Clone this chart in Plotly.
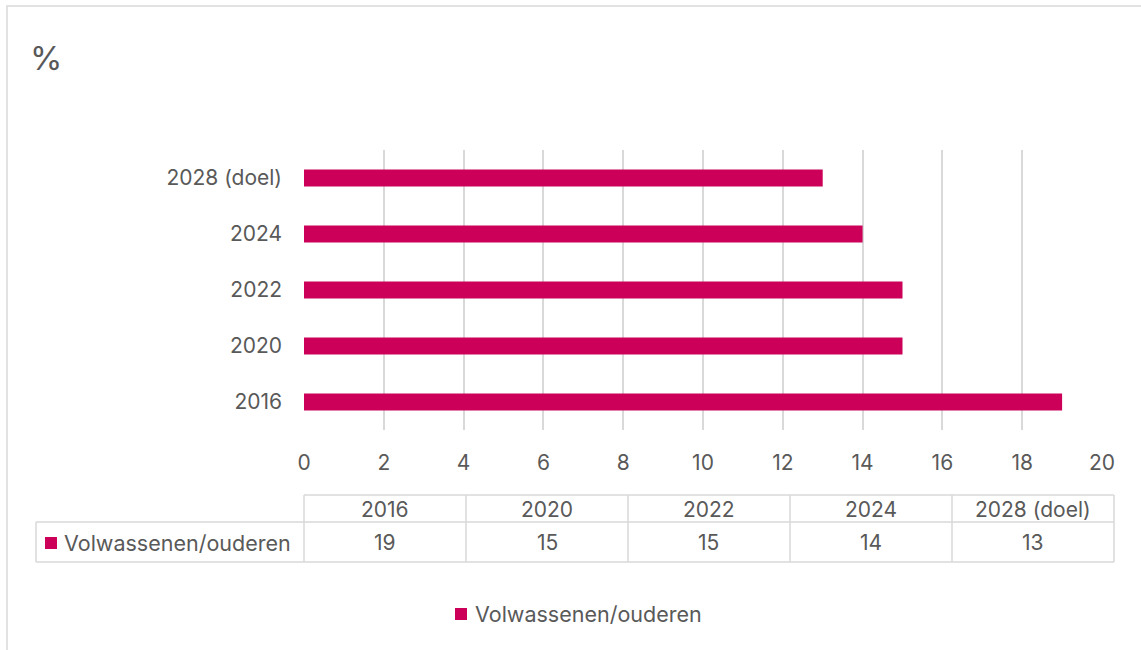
import plotly.graph_objects as go

# Data
categories = ["2016", "2020", "2022", "2024", "2028 (doel)"]
values = [19, 15, 15, 14, 13]
series_name = "Volwassenen/ouderen"
x_ticks = [0, 2, 4, 6, 8, 10, 12, 14, 16, 18, 20]

W, H = 1141, 650
BAR = "#CC0058"
TXT = "#595959"
GRID = "#D9D9D9"
FONT = "Inter, Open Sans, sans-serif"


def px(x):
    return x / W


def py(y):
    return 1 - y / H


fig = go.Figure()

fig.add_trace(go.Bar(
    x=values,
    y=categories,
    orientation="h",
    marker=dict(color=BAR, line=dict(width=0)),
    width=0.3,
    name=series_name,
    showlegend=False,
    hoverinfo="x+y",
))

shapes = []
annotations = []

# Outer chart border
shapes.append(dict(type="rect", xref="paper", yref="paper",
                   x0=px(7), x1=px(1145), y0=py(655), y1=py(6),
                   line=dict(color=GRID, width=1.5), layer="below"))

# "%" title
annotations.append(dict(text="%", xref="paper", yref="paper", x=px(28), y=py(58),
                        xanchor="left", yanchor="middle", showarrow=False,
                        font=dict(size=33, color=TXT, family=FONT)))

# Data table built from the arrays
col_left, col_w = 304, 162
row_top, row_mid, row_bot = 495, 522, 562
label_left = 36
n = len(categories)
line = dict(color=GRID, width=1.5)
right = col_left + col_w * n
# horizontal lines
shapes.append(dict(type="line", xref="paper", yref="paper", x0=px(col_left), x1=px(right),
                   y0=py(row_top), y1=py(row_top), line=line))
shapes.append(dict(type="line", xref="paper", yref="paper", x0=px(label_left), x1=px(right),
                   y0=py(row_mid), y1=py(row_mid), line=line))
shapes.append(dict(type="line", xref="paper", yref="paper", x0=px(label_left), x1=px(right),
                   y0=py(row_bot), y1=py(row_bot), line=line))
shapes.append(dict(type="line", xref="paper", yref="paper", x0=px(label_left), x1=px(label_left),
                   y0=py(row_mid), y1=py(row_bot), line=line))
for i in range(n + 1):
    xx = col_left + col_w * i
    shapes.append(dict(type="line", xref="paper", yref="paper", x0=px(xx), x1=px(xx),
                       y0=py(row_top), y1=py(row_bot), line=line))
for i, (c, v) in enumerate(zip(categories, values)):
    cx = col_left + col_w * (i + 0.5)
    annotations.append(dict(text=c, xref="paper", yref="paper", x=px(cx), y=py((row_top + row_mid) / 2 + 1),
                            xanchor="center", yanchor="middle", showarrow=False,
                            font=dict(size=21, color=TXT, family=FONT)))
    annotations.append(dict(text=str(v), xref="paper", yref="paper", x=px(cx), y=py((row_mid + row_bot) / 2),
                            xanchor="center", yanchor="middle", showarrow=False,
                            font=dict(size=21, color=TXT, family=FONT)))

# row label with legend key
shapes.append(dict(type="rect", xref="paper", yref="paper", x0=px(45), x1=px(57),
                   y0=py(549), y1=py(537), fillcolor=BAR, line=dict(width=0)))
annotations.append(dict(text=series_name, xref="paper", yref="paper", x=px(62), y=py(543),
                        xanchor="left", yanchor="middle", showarrow=False,
                        font=dict(size=21.5, color=TXT, family=FONT)))

# bottom legend
shapes.append(dict(type="rect", xref="paper", yref="paper", x0=px(455), x1=px(467),
                   y0=py(620), y1=py(608), fillcolor=BAR, line=dict(width=0)))
annotations.append(dict(text=series_name, xref="paper", yref="paper", x=px(473), y=py(614),
                        xanchor="left", yanchor="middle", showarrow=False,
                        font=dict(size=21.5, color=TXT, family=FONT)))

fig.update_layout(
    width=W, height=H,
    autosize=False,
    margin=dict(l=0, r=0, t=0, b=0, pad=0, autoexpand=False),
    paper_bgcolor="white", plot_bgcolor="white",
    font=dict(family=FONT, color=TXT, size=21),
    bargap=0.7,
    xaxis=dict(
        domain=[px(304), px(1102)],
        range=[0, 20],
        tickvals=x_ticks,
        showgrid=True, gridcolor=GRID, gridwidth=1.5,
        zeroline=False, showline=False, automargin=False,
        ticks="", ticklabelstandoff=18,
        tickfont=dict(size=21, color=TXT, family=FONT),
        fixedrange=True,
    ),
    yaxis=dict(
        domain=[py(430), py(150)],
        categoryorder="array", categoryarray=categories,
        showgrid=False, zeroline=False, showline=False, automargin=False,
        ticks="", ticklabelstandoff=21,
        tickfont=dict(size=21, color=TXT, family=FONT),
        fixedrange=True,
    ),
    shapes=shapes,
    annotations=annotations,
    showlegend=False,
)

fig.write_html("out.html", config={"displayModeBar": False},
               post_script="document.body.style.margin='0';document.body.style.overflow='hidden';")
